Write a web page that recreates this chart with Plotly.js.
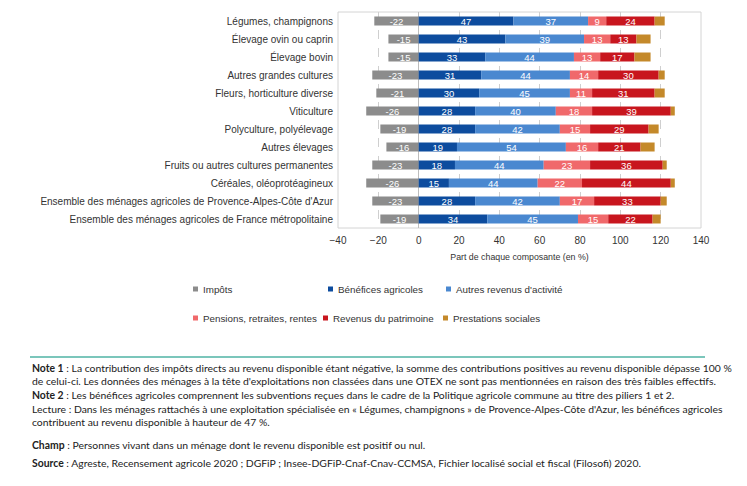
<!DOCTYPE html>
<html>
<head>
<meta charset="utf-8">
<script src="https://cdn.plot.ly/plotly-3.0.1.min.js"></script>
<style>
html,body{margin:0;padding:0;background:#fff;}
#chart{width:747px;height:486px;}
</style>
</head>
<body>
<div id="chart"></div>
<script>
const categories = [
  "Légumes, champignons",
  "Élevage ovin ou caprin",
  "Élevage bovin",
  "Autres grandes cultures",
  "Fleurs, horticulture diverse",
  "Viticulture",
  "Polyculture, polyélevage",
  "Autres élevages",
  "Fruits ou autres cultures permanentes",
  "Céréales, oléoprotéagineux",
  "Ensemble des ménages agricoles de Provence-Alpes-Côte d'Azur",
  "Ensemble des ménages agricoles de France métropolitaine"
];
const impots      = [-22, -15, -15, -23, -21, -26, -19, -16, -23, -26, -23, -19];
const benefices   = [47, 43, 33, 31, 30, 28, 28, 19, 18, 15, 28, 34];
const autresRev   = [37, 39, 44, 44, 45, 40, 42, 54, 44, 44, 42, 45];
const pensions    = [9, 13, 13, 14, 11, 18, 15, 16, 23, 22, 17, 15];
const patrimoine  = [24, 13, 17, 30, 31, 39, 29, 21, 36, 44, 33, 22];
const prestations = [5, 7, 8, 3, 5, 2, 5, 7, 2, 2, 3, 4];

const seriesNames = ["Impôts", "Bénéfices agricoles", "Autres revenus d'activité",
  "Pensions, retraites, rentes", "Revenus du patrimoine", "Prestations sociales"];
const seriesValues = [impots, benefices, autresRev, pensions, patrimoine, prestations];
const colors = ["#8c8c8c", "#0d4c9e", "#4a88d0", "#f0696b", "#c8161e", "#c4892a"];
const showText = [true, true, true, true, true, false];

const W = 747, H = 486;
const PL = 338, PR = 701, PT = 12, PB = 228;
const px2x = p => (p - PL) / (PR - PL);
const py2y = p => (PB - p) / (PB - PT);
const FONT = "Liberation Sans, Arial, sans-serif";

// legend text start positions (px) and row centres
const legendTextX = [201, 336, 454, 201, 331, 451];
const legendRowY  = [289, 289, 289, 318, 318, 318];

const traces = seriesValues.map((vals, i) => ({
  type: "bar",
  orientation: "h",
  name: seriesNames[i],
  y: categories,
  x: vals,
  marker: {color: colors[i], line: {width: 0}},
  text: showText[i] ? vals.map(v => String(v)) : undefined,
  textposition: showText[i] ? "inside" : "none",
  insidetextanchor: "middle",
  textangle: 0,
  textfont: {color: "#ffffff", size: 9.5, family: FONT},
  showlegend: false,
  hoverinfo: "x+y+name"
}));

const notes = [
  {y: 368, t: "<b>Note 1</b> : La contribution des impôts directs au revenu disponible étant négative, la somme des contributions positives au revenu disponible dépasse 100 %"},
  {y: 381, t: "de celui-ci. Les données des ménages à la tête d'exploitations non classées dans une OTEX ne sont pas mentionnées en raison des très faibles effectifs."},
  {y: 395, t: "<b>Note 2</b> : Les bénéfices agricoles comprennent les subventions reçues dans le cadre de la Politique agricole commune au titre des piliers 1 et 2."},
  {y: 409, t: "Lecture : Dans les ménages rattachés à une exploitation spécialisée en « Légumes, champignons » de Provence-Alpes-Côte d'Azur, les bénéfices agricoles"},
  {y: 422, t: "contribuent au revenu disponible à hauteur de 47 %."},
  {y: 445, t: "<b>Champ</b> : Personnes vivant dans un ménage dont le revenu disponible est positif ou nul."},
  {y: 463, t: "<b>Source</b> : Agreste, Recensement agricole 2020 ; DGFiP ; Insee-DGFiP-Cnaf-Cnav-CCMSA, Fichier localisé social et fiscal (Filosofi) 2020."}
];

const annotations = notes.map(n => ({
  xref: "paper", yref: "paper",
  x: px2x(30), y: py2y(n.y),
  xanchor: "left", yanchor: "middle",
  text: n.t, showarrow: false,
  font: {family: "Lato, Open Sans, sans-serif", size: 10.4, color: "#222"},
  align: "left"
}));

// custom legend (text + small square keys)
const legendShapes = [];
seriesNames.forEach((name, i) => {
  annotations.push({
    xref: "paper", yref: "paper",
    x: px2x(legendTextX[i]), y: py2y(legendRowY[i]),
    xanchor: "left", yanchor: "middle",
    text: name, showarrow: false,
    font: {family: FONT, size: 9.8, color: "#333"}
  });
  legendShapes.push({
    type: "rect", xref: "paper", yref: "paper",
    x0: px2x(legendTextX[i] - 8), x1: px2x(legendTextX[i] - 3),
    y0: py2y(legendRowY[i] + 2.5), y1: py2y(legendRowY[i] - 2.5),
    fillcolor: colors[i], line: {width: 0}
  });
});

const layout = {
  width: W, height: H,
  margin: {l: PL, r: W - PR, t: PT, b: H - PB},
  paper_bgcolor: "#ffffff",
  plot_bgcolor: "#ffffff",
  barmode: "relative",
  bargap: 0.5,
  font: {family: FONT, color: "#333", size: 9.5},
  showlegend: false,
  uniformtext: {mode: "show", minsize: 9.5},
  xaxis: {
    range: [-40, 140], dtick: 20, tick0: 0,
    showgrid: true, gridcolor: "#cfcfcf", griddash: "dash", gridwidth: 1,
    zeroline: true, zerolinecolor: "#bdbdbd", zerolinewidth: 1,
    showline: false, ticks: "",
    ticklabelstandoff: 5,
    tickfont: {size: 10, color: "#333", family: FONT},
    title: {text: "Part de chaque composante (en %)", font: {size: 8.8, color: "#333", family: FONT}, standoff: 8},
    fixedrange: true
  },
  yaxis: {
    type: "category",
    categoryorder: "array", categoryarray: categories,
    autorange: "reversed",
    showgrid: false, zeroline: false, showline: false, ticks: "",
    ticklabelstandoff: 4,
    tickfont: {size: 10, color: "#333", family: FONT},
    fixedrange: true
  },
  shapes: [
    {type: "rect", xref: "paper", yref: "paper", x0: 0, x1: 1, y0: 0, y1: 1,
     line: {color: "#d4d4d4", width: 1}, fillcolor: "rgba(0,0,0,0)", layer: "below"},
    {type: "line", xref: "paper", yref: "paper",
     x0: px2x(30), x1: px2x(705), y0: py2y(357), y1: py2y(357),
     line: {color: "#4fb3a5", width: 1.5}}
  ].concat(legendShapes),
  annotations: annotations
};

Plotly.newPlot("chart", traces, layout, {displayModeBar: false, staticPlot: true});
</script>
</body>
</html>
